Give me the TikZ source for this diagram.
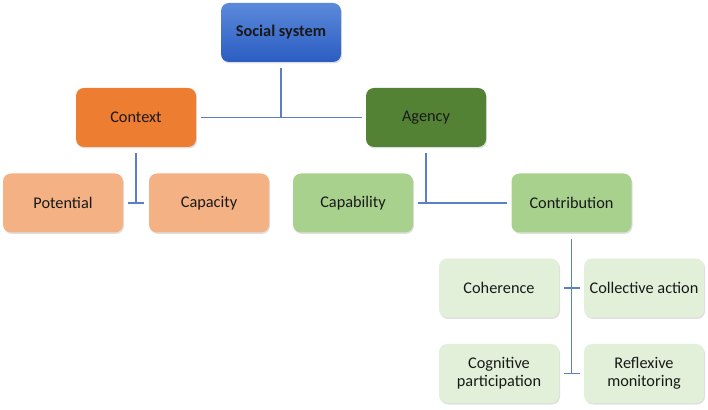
\documentclass[tikz,border=0pt]{standalone}
\usepackage{fontspec}
\setmainfont{Carlito}
\usetikzlibrary{shadows}
\definecolor{linkblue}{HTML}{5A7FC6}
\definecolor{systop}{HTML}{5B89DA}
\definecolor{sysbot}{HTML}{2B5DC2}
\definecolor{ctxorange}{HTML}{ED7D31}
\definecolor{agygreen}{HTML}{548235}
\definecolor{ctxlight}{HTML}{F4B183}
\definecolor{agylight}{HTML}{A9D18E}
\definecolor{conlight}{HTML}{E2F0D9}
\begin{document}
\begin{tikzpicture}[x=1pt,y=1pt,
    box/.style={rounded corners=8pt,minimum width=120pt,minimum height=59pt,
        align=center,font=\fontsize{16.3}{18}\selectfont,text=black!90,
        drop shadow={opacity=0.25,shadow xshift=1pt,shadow yshift=-1.5pt}},
    link/.style={draw=linkblue,line width=1.2pt}]
        \useasboundingbox (0,0) rectangle (708,409);
        % vertice
        \node[box,top color=systop,bottom color=sysbot,
            font=\fontsize{16.3}{18}\selectfont\bfseries] (sys) at (281,376.5) {Social system};
        % secondo livello
        \node[box,fill=ctxorange] (ctx) at (136,291.5) {Context};
        \node[box,fill=agygreen] (agy) at (426,291.5) {Agency};
        % terzo livello
        \node[box,fill=ctxlight] (pot) at (63,206) {Potential};
        \node[box,fill=ctxlight] (cap) at (209,206) {Capacity};
        \node[box,fill=agylight] (cpb) at (353,206) {Capability};
        \node[box,fill=agylight] (con) at (571.5,206) {Contribution};
        % quarto livello
        \node[box,fill=conlight] (coh) at (499,121) {Coherence};
        \node[box,fill=conlight] (col) at (644,121) {Collective action};
        \node[box,fill=conlight] (cog) at (499,35.5) {Cognitive\\participation};
        \node[box,fill=conlight] (ref) at (644,35.5) {Reflexive\\monitoring};
        % collegamenti
        \draw[link] ([yshift=-6pt]sys.south) -- (sys.south |- ctx.east);
        \draw[link] ([xshift=5pt]ctx.east) -- ([xshift=-4pt]agy.west);
        \draw[link] ([yshift=-6pt]ctx.south) -- (ctx.south |- pot.east);
        \draw[link] ([xshift=5pt]pot.east) -- ([xshift=-5pt]cap.west);
        \draw[link] ([yshift=-6pt]agy.south) -- (agy.south |- cpb.east);
        \draw[link] ([xshift=5pt]cpb.east) -- ([xshift=-4pt]con.west);
        \draw[link] ([yshift=-6pt]con.south) -- (con.south |- cog.east);
        \draw[link] ([xshift=5pt]coh.east) -- ([xshift=-4pt]col.west);
        \draw[link] ([xshift=5pt]cog.east) -- ([xshift=-4pt]ref.west);
    \end{tikzpicture}
\end{document}
